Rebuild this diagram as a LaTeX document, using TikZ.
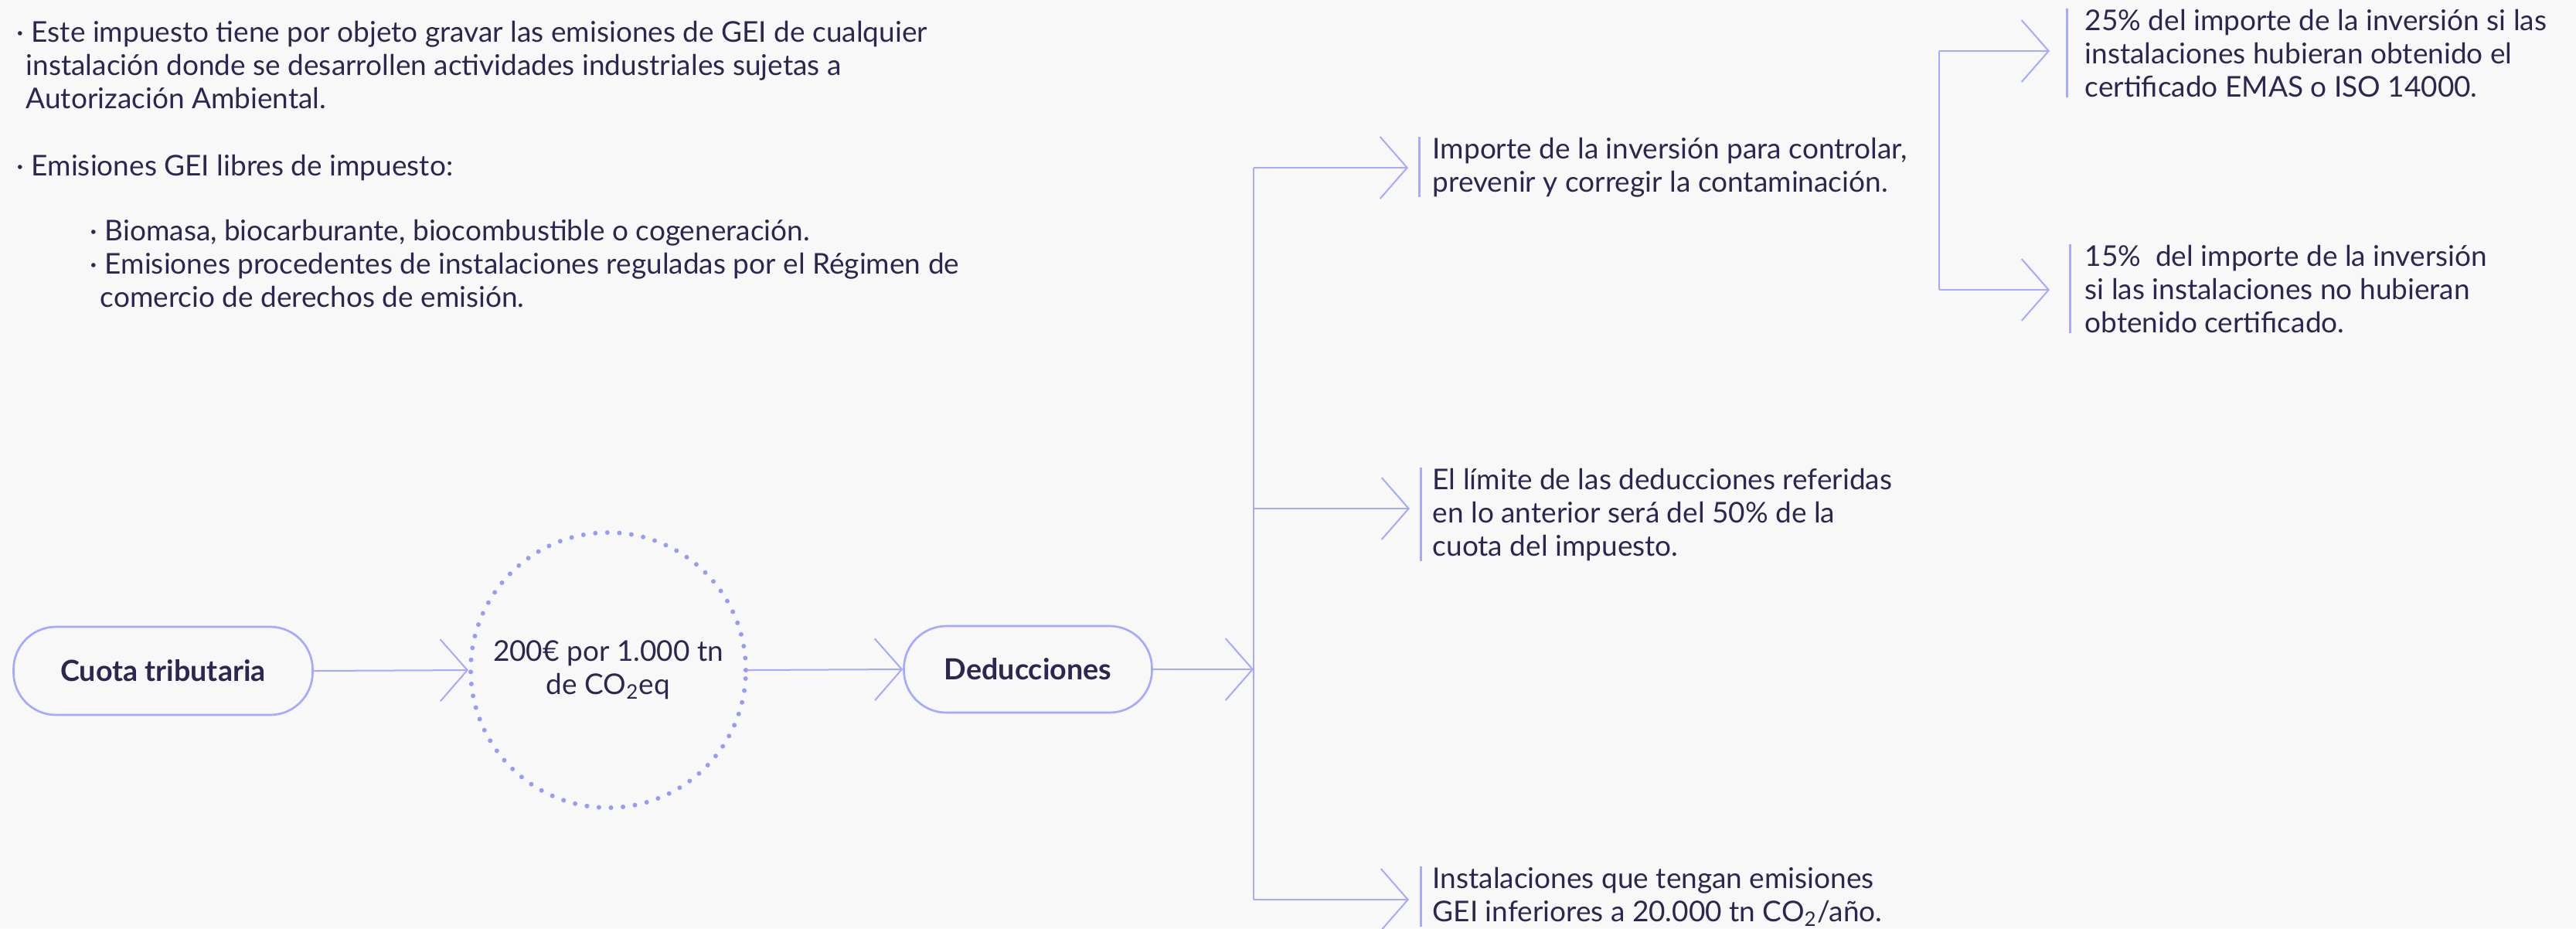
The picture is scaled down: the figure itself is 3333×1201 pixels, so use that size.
\documentclass[tikz,border=0pt]{standalone}
\usepackage{fontspec}
\setmainfont{Lato}
\usetikzlibrary{arrows.meta,calc}
\definecolor{bg}{RGB}{248,248,248}
\definecolor{ink}{RGB}{45,38,80}
\definecolor{lav}{RGB}{165,170,255}
\definecolor{dotc}{RGB}{150,155,250}
\begin{document}
\begin{tikzpicture}[x=0.3pt,y=-0.3pt,
  every node/.style={text=ink, font=\fontsize{11.1}{12.9}\selectfont},
  conn/.style={draw=lav, line width=0.6pt},
  arr/.style={conn, -{Straight Barb[length=10.5pt,width=24pt,line width=0.6pt]}},
  bar/.style={draw=lav, line width=0.9pt},
  pill/.style={draw=lav, line width=0.8pt, rounded corners=16.5pt, fill=bg,
    font=\fontsize{11.3}{12.9}\selectfont\bfseries},
  dotcircle/.style={circle, draw=dotc, line width=1.8pt, dash pattern=on 0pt off 4.68pt,
    line cap=round, minimum size=106.8pt, inner sep=0pt, align=center},
  tnode/.style={anchor=base west, align=left, inner ysep=0pt},
  intro/.style={anchor=base west, align=left, inner sep=0pt}]
\fill[bg] (0,0) rectangle (3333,1201);
\useasboundingbox (0,0) rectangle (3333,1201);

% intro text (anchored at the baseline of the last line)
\node[intro] (p1) at (21,140) {·\ Este impuesto tiene por objeto gravar las emisiones de GEI de cualquier\\
\hspace*{3.6pt}instalación donde se desarrollen actividades industriales sujetas a\\
\hspace*{3.6pt}Autorización Ambiental.};
\node[intro] (p2) at (21,227) {·\ Emisiones GEI libres de impuesto:};
\node[intro] (p3) at (116,397) {·\ Biomasa, biocarburante, biocombustible o cogeneración.\\
·\ Emisiones procedentes de instalaciones reguladas por el Régimen de\\
\hspace*{3.9pt}comercio de derechos de emisión.};

% main chain
\node[pill, minimum width=116.1pt, minimum height=34.2pt] (cuota) at (211,868) {Cuota tributaria};
\node[dotcircle] (circ) at (787,867) {200€ por 1.000 tn\\de CO\textsubscript{2}eq};
\node[pill, minimum width=96.3pt, minimum height=33.6pt] (ded) at (1330,866) {Deducciones};
\draw[arr] (cuota.east) -- (circ.west);
\draw[arr] (circ.east) -- (ded.west);

% bus
\coordinate (b1) at (1622,217);
\coordinate (b2) at (1622,658);
\coordinate (b3) at (1622,1164);
\draw[conn] (b1) -- (b3);
\draw[arr] (ded.east) -- (ded.east -| b1);

\node[tnode, inner xsep=9.3pt] (t1) at (1822,248) {Importe de la inversión para controlar,\\prevenir y corregir la contaminación.};
\node[tnode, inner xsep=8.7pt] (t2) at (1824,719) {El límite de las deducciones referidas\\en lo anterior será del 50\% de la\\cuota del impuesto.};
\node[tnode, inner xsep=9pt] (t3) at (1823,1192) {Instalaciones que tengan emisiones\\GEI inferiores a 20.000 tn CO\textsubscript{2}/año.};
\draw[arr] (b1) -- (b1 -| t1.west);
\draw[arr] (b2) -- (b2 -| t2.west);
\draw[arr] (b3) -- (b3 -| t3.west);
\draw[bar] ($(t1.north west)+(14,0)$) -- ($(t1.south west)+(14,0)$);
\draw[bar] ($(t2.north west)+(14,0)$) -- ($(t2.south west)+(14,0)$);
\draw[bar] ($(t3.north west)+(15,0)$) -- ($(t3.south west)+(15,0)$);

% right bracket
\coordinate (c1) at (2509,66);
\coordinate (c2) at (2509,375);
\draw[conn] (c1) -- (c2);
\node[tnode, inner xsep=13.5pt] (t4) at (2652,125) {25\% del importe de la inversión si las\\instalaciones hubieran obtenido el\\certificado EMAS o ISO 14000.};
\node[tnode, inner xsep=13.5pt] (t5) at (2652,430) {15\%\ \ del importe de la inversión\\si las instalaciones no hubieran\\obtenido certificado.};
\draw[arr] (c1) -- (c1 -| t4.west);
\draw[arr] (c2) -- (c2 -| t5.west);
\draw[bar] ($(t4.north west)+(22,0)$) -- ($(t4.south west)+(22,0)$);
\draw[bar] ($(t5.north west)+(26,0)$) -- ($(t5.south west)+(26,0)$);
\end{tikzpicture}
\end{document}
